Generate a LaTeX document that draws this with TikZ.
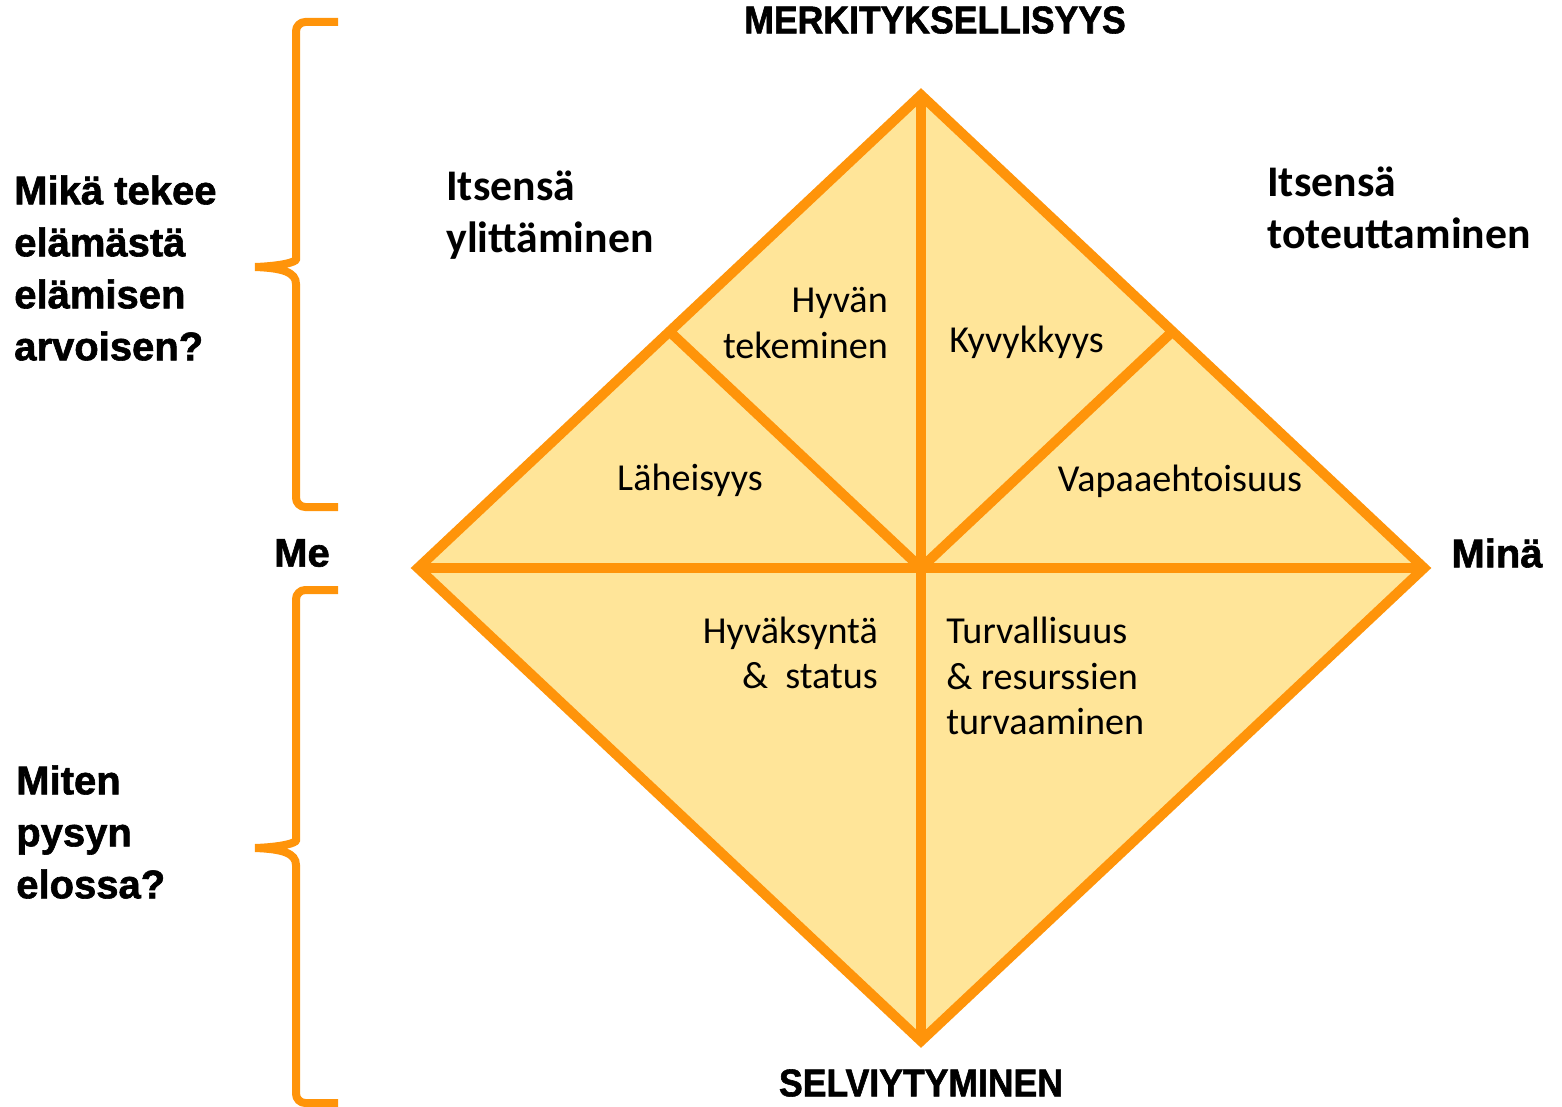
\documentclass[tikz,border=0pt]{standalone}
\usepackage{fontspec}
\setmainfont{Carlito}
\newfontfamily\heavyfont{Liberation Sans}[BoldFeatures={FakeBold=1.5}]
\newfontfamily\heavynarrow{Liberation Sans}[FakeStretch=0.92,BoldFeatures={FakeBold=1.5}]
\usepackage{tikz}
\usetikzlibrary{calc}
\definecolor{rimorange}{RGB}{255,148,10}
\definecolor{fillgold}{RGB}{255,229,153}

\begin{document}
\begin{tikzpicture}[x=0.75pt,y=0.75pt,yscale=-1,xscale=1,
  rim/.style={draw=rimorange,line width=7.5pt},
  brace/.style={draw=rimorange,line width=6pt,rounded corners=7},
  lab/.style={inner sep=0.75pt,font=\fontsize{28.6}{34}\selectfont},
  boldlab/.style={inner sep=0.75pt,font=\fontsize{32.8}{39}\selectfont\bfseries},
  heavylab/.style={inner sep=0.75pt,font=\heavyfont\bfseries\fontsize{30}{39}\selectfont},
  titlelab/.style={inner sep=0.75pt,font=\heavynarrow\bfseries\fontsize{29}{39}\selectfont}]
\useasboundingbox (0,0) rectangle (1562,1106);

%Shape: corners of the diamond
\coordinate (top) at (921,95);
\coordinate (bot) at (921,1041);
\coordinate (lft) at (418,568);
\coordinate (rgt) at (1424,568);
\coordinate (mid) at (921,568);
\coordinate (ulm) at ($(top)!0.5!(lft)$);
\coordinate (urm) at ($(top)!0.5!(rgt)$);

%Shape: Diamond
\draw [rim,fill=fillgold] (top) -- (rgt) -- (bot) -- (lft) -- cycle ;
%Straight Lines
\draw [rim] (top) -- (bot) ;
\draw [rim] (lft) -- (rgt) ;
\draw [rim] (ulm) -- (mid) ;
\draw [rim] (urm) -- (mid) ;

%Shape: upper brace
\draw [brace] (338,22) -- (296,22) -- (296,250) [rounded corners=0] .. controls (296,262) and (282,266) .. (255,267) .. controls (282,268) and (296,272) .. (296,284) [rounded corners=7] -- (296,507) -- (338,507) ;
%Shape: lower brace
\draw [brace] (338,590) -- (296,590) -- (296,831) [rounded corners=0] .. controls (296,843) and (282,847) .. (255,848) .. controls (282,849) and (296,853) .. (296,865) [rounded corners=7] -- (296,1103) -- (338,1103) ;

% Text Node
\node (merk) [titlelab] at (935,20) {MERKITYKSELLISYYS};
% Text Node
\node (selv) [titlelab] at (921,1083) {SELVIYTYMINEN};
% Text Node
\node (me) [heavylab] at (302,553) {Me};
% Text Node
\node (mina) [heavylab] at (1497,553) {Minä};
% Text Node
\node (arvo) [heavylab,anchor=west,align=left] at (13,268) {Mikä tekee\\elämästä\\elämisen\\arvoisen?};
% Text Node
\node (elossa) [heavylab,anchor=west,align=left] at (15,832) {Miten\\pysyn\\elossa?};
% Text Node
\node (ylit) [boldlab,anchor=west,align=left] at (445,215) {Itsensä\\ylittäminen};
% Text Node
\node (toteu) [boldlab,anchor=west,align=left] at (1266,208) {Itsensä\\toteuttaminen};
% Text Node
\node (hyvan) [lab,anchor=east,align=right] at (889,323) {Hyvän\\tekeminen};
% Text Node
\node (kyky) [lab,anchor=west] at (948,342) {Kyvykkyys};
% Text Node
\node (lahe) [lab] at (690,480) {Läheisyys};
% Text Node
\node (vapaa) [lab] at (1180,481) {Vapaaehtoisuus};
% Text Node
\node (hyvak) [lab,anchor=east,align=right] at (879,653) {Hyväksyntä\\\&\ \ status};
% Text Node
\node (turva) [lab,anchor=west,align=left] at (945,676) {Turvallisuus\\\& resurssien\\turvaaminen};

\end{tikzpicture}
\end{document}
